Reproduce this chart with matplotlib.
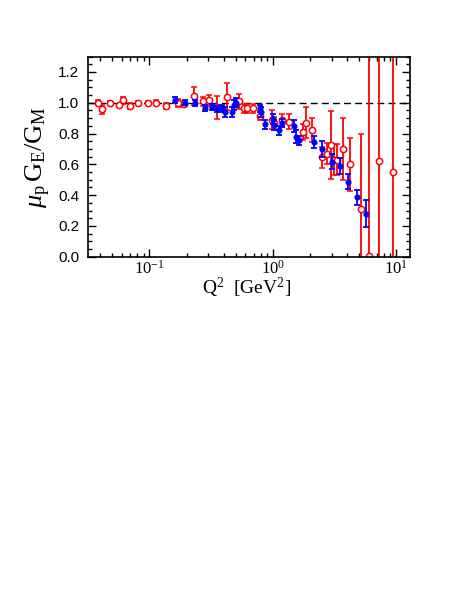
import numpy as np
import matplotlib.pyplot as plt
from matplotlib.ticker import LogLocator, FixedLocator, MultipleLocator, FuncFormatter

plt.rcParams['mathtext.fontset'] = 'custom'
plt.rcParams['mathtext.rm'] = 'Liberation Serif'
plt.rcParams['mathtext.it'] = 'Liberation Serif:italic'

# red open circles: Q^2, ratio, error
q2_red = [0.038, 0.041, 0.048, 0.0565, 0.061, 0.069, 0.081, 0.098, 0.114, 0.137,
          0.172, 0.19, 0.232, 0.273, 0.304, 0.352, 0.428, 0.537, 0.585, 0.62,
          0.69, 0.79, 0.99, 1.03, 1.18, 1.35, 1.75, 1.85, 2.1, 2.5,
          2.73, 2.94, 3.15, 3.29, 3.72, 4.22, 5.15, 6.0, 7.3, 9.5]
r_red = [1.00, 0.957, 1.00, 0.985, 1.015, 0.98, 1.00, 1.00, 1.00, 0.98,
         1.00, 0.99, 1.045, 1.01, 1.015, 0.97, 1.04, 1.01, 0.965, 0.965,
         0.963, 0.915, 0.89, 0.87, 0.885, 0.877, 0.81, 0.87, 0.823, 0.645,
         0.67, 0.725, 0.63, 0.63, 0.70, 0.60, 0.31, 0.005, 0.62, 0.55]
e_red = [0.015, 0.03, 0.01, 0.01, 0.025, 0.02, 0.01, 0.01, 0.015, 0.02,
         0.025, 0.02, 0.06, 0.03, 0.035, 0.075, 0.09, 0.05, 0.03, 0.03,
         0.03, 0.03, 0.06, 0.04, 0.04, 0.05, 0.05, 0.1, 0.08, 0.07,
         0.07, 0.22, 0.1, 0.1, 0.2, 0.17, 0.49, 1.5, 1.2, 1.2]

# blue filled points
q2_blue = [0.16, 0.195, 0.234, 0.282, 0.32, 0.351, 0.386, 0.41, 0.465, 0.485,
           0.5, 0.787, 0.81, 0.865, 1.01, 1.02, 1.13, 1.18, 1.5, 1.54,
           1.63, 2.16, 2.5, 3.01, 3.5, 4.04, 4.83, 5.65]
r_blue = [1.02, 1.00, 0.996, 0.967, 0.97, 0.957, 0.963, 0.94, 0.94, 0.985,
          1.00, 0.963, 0.94, 0.86, 0.895, 0.855, 0.82, 0.87, 0.85, 0.78,
          0.755, 0.747, 0.70, 0.617, 0.59, 0.487, 0.385, 0.28]
e_blue = [0.02, 0.015, 0.02, 0.02, 0.02, 0.02, 0.025, 0.03, 0.03, 0.03,
          0.03, 0.02, 0.03, 0.03, 0.03, 0.03, 0.03, 0.025, 0.04, 0.04,
          0.03, 0.04, 0.05, 0.05, 0.05, 0.05, 0.05, 0.09]

fig = plt.figure(figsize=(4.58, 5.92), dpi=100)
ax = fig.add_axes([0.1915, 0.5664, 0.704, 0.338])

ax.axhline(1.0, color='black', lw=1.0, ls=(0, (5, 3)), zorder=1)

ax.errorbar(q2_red, r_red, yerr=e_red, fmt='o', mfc='white', mec='red', ecolor='red',
            ms=4.5, mew=1.1, elinewidth=1.3, capsize=2.5, capthick=1.2, zorder=2)
ax.errorbar(q2_blue, r_blue, yerr=e_blue, fmt='o', color='blue', ecolor='blue',
            ms=3.4, elinewidth=1.3, capsize=2.5, capthick=1.3, zorder=3)

ax.set_xscale('log')
ax.set_xlim(0.0316, 13)
ax.set_ylim(0.0, 1.3)

ax.xaxis.set_major_locator(FixedLocator([0.1, 1, 10]))
ax.xaxis.set_minor_locator(LogLocator(base=10, subs=np.arange(2, 10), numticks=20))
ax.xaxis.set_major_formatter(FuncFormatter(lambda v, p: r'$10^{%d}$' % round(np.log10(v))))
ax.xaxis.set_minor_formatter(FuncFormatter(lambda v, p: ''))
ax.yaxis.set_major_locator(MultipleLocator(0.2))
ax.yaxis.set_minor_locator(MultipleLocator(0.05))
ax.yaxis.set_major_formatter(FuncFormatter(lambda v, p: '%.1f' % v))

ax.tick_params(which='both', direction='in', top=True, right=True, width=1.0)
ax.tick_params(which='major', length=6)
ax.tick_params(which='minor', length=3)
ax.tick_params(axis='y', labelsize=11, pad=6)
ax.tick_params(axis='x', labelsize=12, pad=2)
for lab in ax.get_yticklabels():
    lab.set_fontfamily('Liberation Sans')
for s in ax.spines.values():
    s.set_linewidth(1.2)

fig.text(0.539, 0.513, r'Q$^2$  [GeV$^2$]', fontsize=14, family='Liberation Serif',
         ha='center', va='center')
ax.set_ylabel(r'$\mu_{\rm p}\,{\rm G_E/G_M}$', fontsize=19, labelpad=4)

fig.savefig('out.png', dpi=100)
